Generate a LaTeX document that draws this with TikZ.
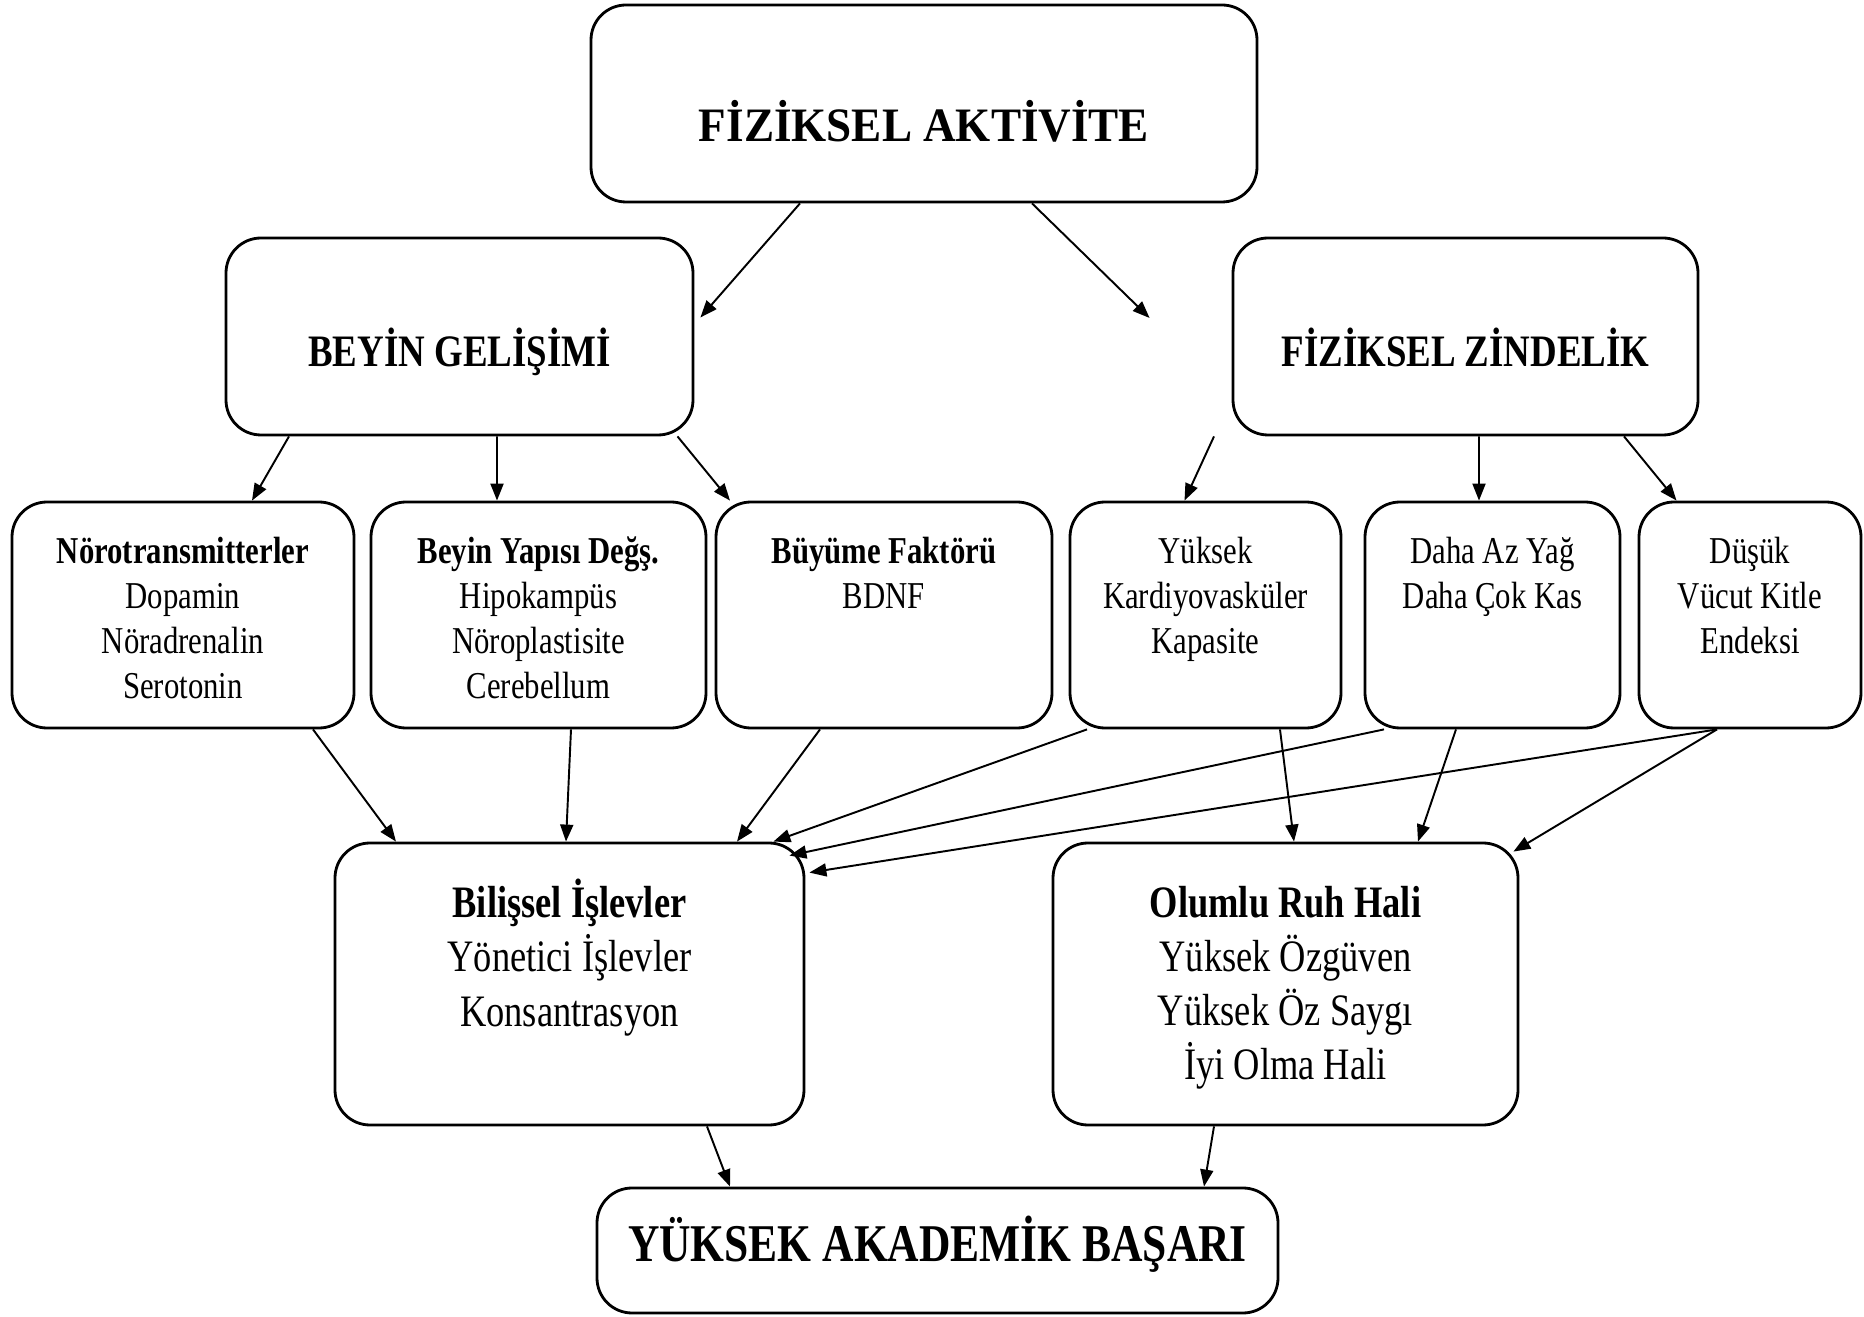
\documentclass[tikz,border=0pt]{standalone}
\usepackage{fontspec}
\setmainfont{Liberation Serif}
\newfontfamily\ttlfont{Liberation Serif}[FakeStretch=0.94]
\newfontfamily\hdfont{Liberation Serif}[FakeStretch=0.82]
\newfontfamily\txfont{Liberation Serif}[FakeStretch=0.81]
\usetikzlibrary{arrows.meta,positioning}
\tikzset{
  box/.style 2 args={draw,rounded corners=0.35cm,line width=0.8pt,minimum width=#1cm,minimum height=#2cm,inner sep=0pt},
  hd/.style={anchor=base,inner sep=0pt,font=\hdfont\bfseries\fontsize{12.8}{15}\selectfont},
  sm/.style={anchor=north,inner sep=0pt,align=center,font=\txfont\fontsize{10.8}{12.8}\selectfont},
  md/.style={anchor=north,inner sep=0pt,align=center,font=\txfont\fontsize{12.8}{15.4}\selectfont},
  arr/.style={-{Triangle[length=0.17cm,width=0.13cm]},line width=0.55pt}
}
\begin{document}
\begin{tikzpicture}
\useasboundingbox (0,0) rectangle (18.64,-13.17);
\node[box={6.66}{1.97}](FA) at (9.24,-1.035){};
\node[box={4.67}{1.97},below of = FA,node distance=2.33cm,xshift=-4.645cm](BG){};
\node[box={4.65}{1.97},below of = FA,node distance=2.33cm,xshift=5.415cm](FZ){};
\node[box={3.42}{2.26},below of = BG,node distance=2.785cm,xshift=-2.765cm](A1){};
\node[box={3.35}{2.26},below of = BG,node distance=2.785cm,xshift=0.79cm](A2){};
\node[box={3.36}{2.26},below of = BG,node distance=2.785cm,xshift=4.245cm](A3){};
\node[box={2.71}{2.26},below of = FZ,node distance=2.785cm,xshift=-2.6cm](A4){};
\node[box={2.55}{2.26},below of = FZ,node distance=2.785cm,xshift=0.27cm](A5){};
\node[box={2.22}{2.26},below of = FZ,node distance=2.785cm,xshift=2.845cm](A6){};
\node[box={4.69}{2.82},below of = A2,node distance=3.69cm,xshift=0.31cm](BI){};
\node[box={4.65}{2.82},below of = A4,node distance=3.69cm,xshift=0.8cm](RH){};
\node[box={6.81}{1.25},below of = BI,node distance=2.665cm,xshift=3.68cm](YB){};

\node[anchor=base,inner sep=0pt,font=\ttlfont\bfseries\fontsize{13.66}{16}\selectfont](FAt) at ([yshift=-1.38cm]FA.north){FİZİKSEL AKTİVİTE};
\node[hd](BGt) at ([yshift=-1.3cm]BG.north){BEYİN GELİŞİMİ};
\node[hd](FZt) at ([yshift=-1.3cm]FZ.north){FİZİKSEL ZİNDELİK};
\node[sm](A1t) at ([yshift=-0.31cm]A1.north){\strut\textbf{Nörotransmitterler}\\Dopamin\\Nöradrenalin\\Serotonin};
\node[sm](A2t) at ([yshift=-0.31cm]A2.north){\strut\textbf{Beyin Yapısı Değş.}\\Hipokampüs\\Nöroplastisite\\Cerebellum};
\node[sm](A3t) at ([yshift=-0.31cm]A3.north){\strut\textbf{Büyüme Faktörü}\\BDNF};
\node[sm](A4t) at ([yshift=-0.31cm]A4.north){\strut Yüksek\\Kardiyovasküler\\Kapasite};
\node[sm](A5t) at ([yshift=-0.31cm]A5.north){\strut Daha Az Yağ\\Daha Çok Kas};
\node[sm](A6t) at ([yshift=-0.31cm]A6.north){\strut Düşük\\Vücut Kitle\\Endeksi};
\node[md](BIt) at ([yshift=-0.37cm]BI.north){\strut\textbf{Bilişsel İşlevler}\\Yönetici İşlevler\\Konsantrasyon};
\node[md](RHt) at ([yshift=-0.37cm]RH.north){\strut\textbf{Olumlu Ruh Hali}\\Yüksek Özgüven\\Yüksek Öz Saygı\\İyi Olma Hali};
\node[hd,font=\hdfont\bfseries\fontsize{15.1}{18}\selectfont](YBt) at ([yshift=-0.75cm]YB.north){YÜKSEK AKADEMİK BAŞARI};

\coordinate (G1) at ([xshift=-0.82cm,yshift=0.185cm]FZ.west);
\coordinate (G2) at ([xshift=-2.515cm]FZ.south);

\draw[arr] ([xshift=-1.24cm]FA.south) -- ([xshift=0.06cm,yshift=0.19cm]BG.east);
\draw[arr] ([xshift=1.08cm]FA.south) -- (G1);
\draw[arr] ([xshift=-1.705cm]BG.south) -- ([xshift=0.69cm]A1.north);
\draw[arr] ([xshift=0.375cm]BG.south) -- ([xshift=-0.415cm]A2.north);
\draw[arr] ([xshift=2.18cm]BG.south) -- ([xshift=-1.54cm]A3.north);
\draw[arr] (G2) -- ([xshift=-0.21cm]A4.north);
\draw[arr] ([xshift=0.135cm]FZ.south) -- ([xshift=-0.135cm]A5.north);
\draw[arr] ([xshift=1.585cm]FZ.south) -- ([xshift=-0.735cm]A6.north);
\draw[arr] ([xshift=1.3cm]A1.south) -- ([xshift=-1.735cm]BI.north);
\draw[arr] ([xshift=0.325cm]A2.south) -- ([xshift=-0.035cm]BI.north);
\draw[arr] ([xshift=-0.64cm]A3.south) -- ([xshift=1.675cm]BI.north);
\draw[arr] ([xshift=-1.185cm]A4.south) -- ([xshift=-0.32cm]BI.north east);
\draw[arr] ([xshift=-1.085cm]A5.south) -- ([xshift=-0.16cm,yshift=-0.14cm]BI.north east);
\draw[arr] ([xshift=-0.33cm]A6.south) -- ([xshift=0.04cm,yshift=-0.31cm]BI.north east);
\draw[arr] ([xshift=0.745cm]A4.south) -- ([xshift=0.085cm]RH.north);
\draw[arr] ([xshift=-0.365cm]A5.south) -- ([xshift=1.325cm]RH.north);
\draw[arr] ([xshift=-0.33cm]A6.south) -- ([xshift=-0.06cm,yshift=-0.1cm]RH.north east);
\draw[arr] ([xshift=1.375cm]BI.south) -- ([xshift=-2.075cm]YB.north);
\draw[arr] ([xshift=-0.715cm]RH.south) -- ([xshift=2.665cm]YB.north);
\end{tikzpicture}
\end{document}
